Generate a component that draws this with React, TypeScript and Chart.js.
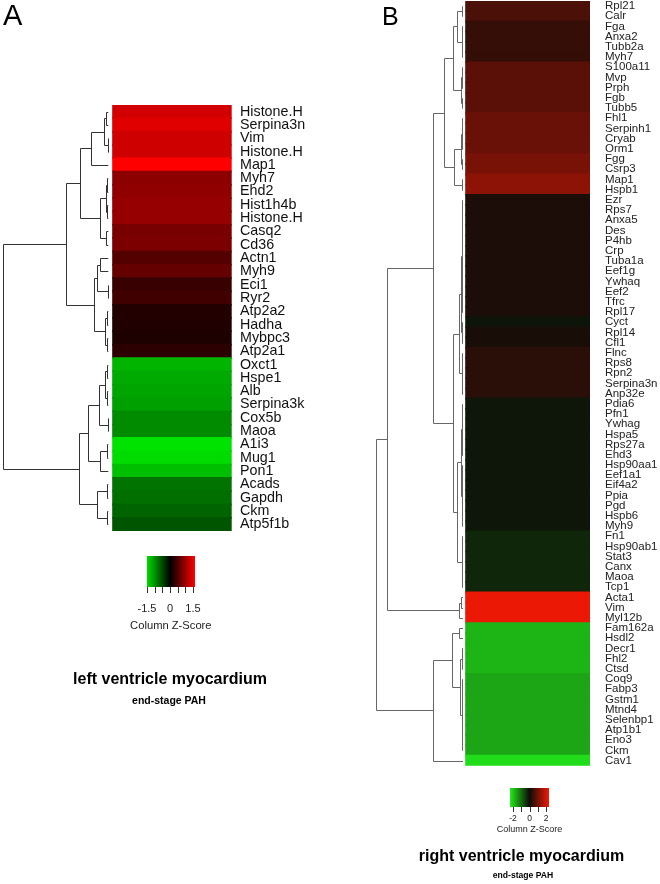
import React, { useEffect, useRef } from "react";
import { Chart, registerables } from "chart.js";

Chart.register(...registerables);

const FONT = '"Liberation Sans", Arial, Helvetica, sans-serif';

// ---------------- Panel A : left ventricle myocardium ----------------
const genesA = [
  "Histone.H", "Serpina3n", "Vim", "Histone.H", "Map1", "Myh7", "Ehd2", "Hist1h4b",
  "Histone.H", "Casq2", "Cd36", "Actn1", "Myh9", "Eci1", "Ryr2", "Atp2a2", "Hadha",
  "Mybpc3", "Atp2a1", "Oxct1", "Hspe1", "Alb", "Serpina3k", "Cox5b", "Maoa", "A1i3",
  "Mug1", "Pon1", "Acads", "Gapdh", "Ckm", "Atp5f1b",
];
const zScoresA = [
  1.32, 1.41, 1.29, 1.29, 1.6, 0.88, 0.91, 0.94, 0.94, 0.75, 0.78, 0.53, 0.63, 0.35,
  0.41, 0.22, 0.2, 0.18, 0.28, -1.25, -1.18, -1.15, -1.11, -0.97, -0.97, -1.57, -1.53,
  -1.32, -0.8, -0.77, -0.7, -0.59,
];
// dendrogram: [height, ...children], a child is a row index or a sub-tree
const treeA: any = [105.3,
  [42,
    [28,
      [17.3, [4, [2, 0, 1], [0.5, 2, 3]], 4],
      [8, [2.5, [1.5, 5, 6], [1, 7, 8]], [2.7, 9, 10]]],
    [14.7,
      [11.3, [8.7, 11, 12], [0.6, 13, 14]],
      [3, [0.8, 15, 16], [1, 17, 18]]]],
  [29.7,
    [20.7,
      [9, [3, [1, 19, 20], [1.5, 21, 22]], [0.5, 23, 24]],
      [8, [1, 25, 26], 27]],
    [11.3, [1.5, 28, 29], [1, 30, 31]]]];
const keyTicksA = [-1.5, -1, -0.5, 0, 0.5, 1, 1.5];
const keyLabelsA = [-1.5, 0, 1.5];

// ---------------- Panel B : right ventricle myocardium ----------------
const genesB = [
  "Rpl21", "Calr", "Fga", "Anxa2", "Tubb2a", "Myh7", "S100a11", "Mvp", "Prph", "Fgb",
  "Tubb5", "Fhl1", "Serpinh1", "Cryab", "Orm1", "Fgg", "Csrp3", "Map1", "Hspb1", "Ezr",
  "Rps7", "Anxa5", "Des", "P4hb", "Crp", "Tuba1a", "Eef1g", "Ywhaq", "Eef2", "Tfrc",
  "Rpl17", "Cyct", "Rpl14", "Cfl1", "Flnc", "Rps8", "Rpn2", "Serpina3n", "Anp32e",
  "Pdia6", "Pfn1", "Ywhag", "Hspa5", "Rps27a", "Ehd3", "Hsp90aa1", "Eef1a1", "Eif4a2",
  "Ppia", "Pgd", "Hspb6", "Myh9", "Fn1", "Hsp90ab1", "Stat3", "Canx", "Maoa", "Tcp1",
  "Acta1", "Vim", "Myl12b", "Fam162a", "Hsdl2", "Decr1", "Fhl2", "Ctsd", "Coq9", "Fabp3",
  "Gstm1", "Mtnd4", "Selenbp1", "Atp1b1", "Eno3", "Ckm", "Cav1",
];
const zScoresB = [
  0.64, 0.64, 0.42, 0.41, 0.41, 0.4, 0.79, 0.79, 0.79, 0.79, 0.79, 0.94, 0.94, 0.94,
  0.94, 1.09, 1.09, 1.3, 1.3, 0.16, 0.16, 0.16, 0.16, 0.16, 0.16, 0.16, 0.16, 0.16,
  0.16, 0.16, 0.16, -0.08, 0.13, 0.13, 0.3, 0.3, 0.3, 0.3, 0.3, -0.11, -0.11, -0.11,
  -0.11, -0.11, -0.11, -0.11, -0.11, -0.11, -0.11, -0.11, -0.11, -0.11, -0.28, -0.28,
  -0.28, -0.28, -0.28, -0.28, 2.26, 2.26, 2.26, -1.78, -1.78, -1.78, -1.78, -1.78,
  -1.62, -1.62, -1.62, -1.62, -1.62, -1.62, -1.62, -1.62, -2.2,
];
const treeB: any = [87,
  [76.3,
    [30.3,
      [19,
        [10.3, [6.3, [1.5, 0, 1], [0.8, 2, 3, 4, 5]], [2.3, [1, 6, 7, 8], [0.8, 9, 10]]],
        [9, [2, [1.2, 11, 12, 13, 14], [0.8, 15, 16]], [0.7, 17, 18]]],
      [9.7,
        [3.7,
          [2.2, [1, 19, 20, 21, 22, 23, 24, 25, 26, 27, 28, 29, 30], [1.2, 31, 32, 33]],
          [1.5, 34, 35, 36, 37, 38]],
        [6.3,
          [2, [1, 39, 40, 41, 42, 43, 44], [1.2, 45, 46, 47, 48, 49, 50, 51]],
          [1.5, 52, 53, 54, 55, 56, 57]]]],
    [3.7, [2, 58, 59], 60]],
  [30.3,
    [11.3, [4, 61, 62], [3, [1, 63, 64, 65], [1.5, 66, 67, 68, 69, 70, 71, 72, 73]]],
    74]];
const keyTicksB = [-2, -1, 0, 1, 2];
const keyLabelsB = [-2, 0, 2];

// ---------------- styles / layout ----------------
const rampA = { low: [0, 230, 0], mid: [0, 0, 0], high: [255, 0, 0], max: 1.6 };
const rampB = { low: [35, 235, 25], mid: [12, 12, 8], high: [245, 25, 5], max: 2.36 };

const layA = {
  left: 0, width: 330, pad: { left: 2.7, top: 105, bottom: 353, right: 0 },
  axisWidth: 98.3, xMin: -0.929, tickPad: 8.3, tickSize: 14.3, tickColor: "#111",
  gap: 4.7, lineColor: "#333", lineWidth: 1,
};
const layB = {
  left: 330, width: 330, pad: { left: 46, top: 1, bottom: 118.3, right: 0 },
  axisWidth: 70, xMin: -0.726, tickPad: 15, tickSize: 11.5, tickColor: "#222",
  gap: 3, lineColor: "#666", lineWidth: 1,
};

function rampColor(v: number, r: any) {
  const t = Math.max(-1, Math.min(1, v / r.max));
  const a = t < 0 ? r.low : r.high;
  const k = Math.abs(t);
  const c = r.mid.map((m: number, i: number) => Math.round(m + (a[i] - m) * k));
  return `rgb(${c[0]},${c[1]},${c[2]})`;
}

function makeDendroPlugin(tree: any, lay: any) {
  return {
    id: "dendro",
    afterDatasetsDraw(chart: any) {
      const { ctx, scales } = chart;
      const xs = scales.x;
      const ys = scales.y;
      const H = tree[0];
      const xLeaf = xs.getPixelForValue(0) - lay.gap;
      const xRoot = xs.getPixelForValue(xs.min);
      const px = (h: number) => xLeaf - (h / H) * (xLeaf - xRoot);
      const snap = (v: number) => Math.round(v) + 0.5;
      ctx.save();
      ctx.strokeStyle = lay.lineColor;
      ctx.lineWidth = lay.lineWidth;
      ctx.beginPath();
      const walk = (node: any): { x: number; y: number } => {
        if (typeof node === "number") return { x: xLeaf, y: ys.getPixelForValue(node) };
        const [h, ...kids] = node;
        const pts = kids.map(walk);
        const nx = snap(px(h));
        const yv = pts.map((p: any) => p.y);
        const top = Math.min(...yv);
        const bot = Math.max(...yv);
        ctx.moveTo(nx, snap(top));
        ctx.lineTo(nx, snap(bot));
        pts.forEach((p: any) => {
          ctx.moveTo(nx, snap(p.y));
          ctx.lineTo(p.x, snap(p.y));
        });
        return { x: nx, y: (top + bot) / 2 };
      };
      walk(tree);
      ctx.stroke();
      ctx.restore();
    },
  };
}

function HeatPanel({ genes, values, tree, ramp, lay }: any) {
  const ref = useRef<HTMLCanvasElement>(null);
  useEffect(() => {
    const chart = new Chart(ref.current as HTMLCanvasElement, {
      type: "bar",
      data: {
        labels: genes,
        datasets: [
          {
            data: values.map(() => 1),
            backgroundColor: values.map((v: number) => rampColor(v, ramp)),
            borderWidth: 0,
            borderSkipped: false,
            inflateAmount: 0.8,
            barPercentage: 1,
            categoryPercentage: 1,
          } as any,
        ],
      },
      options: {
        indexAxis: "y",
        responsive: false,
        animation: false,
        events: [],
        layout: { padding: lay.pad },
        scales: {
          x: { type: "linear", display: false, min: lay.xMin, max: 1 },
          y: {
            type: "category",
            position: "right",
            grid: { display: false, drawTicks: false },
            border: { display: false },
            ticks: {
              autoSkip: false,
              padding: lay.tickPad,
              color: lay.tickColor,
              font: { family: FONT, size: lay.tickSize },
            },
            afterFit: (s: any) => {
              s.width = lay.axisWidth;
              s.paddingTop = 0;
              s.paddingBottom = 0;
            },
          },
        },
        plugins: {
          legend: { display: false },
          tooltip: { enabled: false },
          title: { display: false },
        },
      } as any,
      plugins: [makeDendroPlugin(tree, lay)],
    });
    return () => chart.destroy();
  }, []);
  return (
    <canvas
      ref={ref}
      width={lay.width}
      height={884}
      style={{ position: "absolute", left: lay.left, top: 0, width: lay.width, height: 884 }}
    />
  );
}

function Txt({ x, y, size, bold, align, color, children }: any) {
  return (
    <div
      style={{
        position: "absolute",
        left: x,
        top: y - size / 2,
        transform: align === "left" ? undefined : "translateX(-50%)",
        fontSize: size,
        lineHeight: `${size}px`,
        fontWeight: bold ? 700 : 400,
        fontFamily: FONT,
        whiteSpace: "nowrap",
        color: color || "#111",
      }}
    >
      {children}
    </div>
  );
}

function ColorKey({ ramp, min, max, box, ticks, labels, tickLen, labelY, labelSize, titleY, titleSize }: any) {
  const pos = (v: number) => box.x + ((v - min) / (max - min)) * box.w;
  const zeroPct = ((0 - min) / (max - min)) * 100;
  const grad = `linear-gradient(to right, ${rampColor(min, ramp)} 0%, ${rampColor(0, ramp)} ${zeroPct}%, ${rampColor(max, ramp)} 100%)`;
  return (
    <>
      <div style={{ position: "absolute", left: box.x, top: box.y, width: box.w, height: box.h, background: grad }} />
      {ticks.map((t: number, i: number) => (
        <div key={i} style={{ position: "absolute", left: Math.round(pos(t)), top: box.y + box.h, width: 1, height: tickLen, background: "#333" }} />
      ))}
      {labels.map((t: number, i: number) => (
        <Txt key={i} x={pos(t)} y={labelY} size={labelSize} color="#222">{String(t)}</Txt>
      ))}
      <Txt x={box.x + box.w / 2} y={titleY} size={titleSize} color="#222">Column Z-Score</Txt>
    </>
  );
}

export default function App() {
  return (
    <div style={{ position: "absolute", left: 0, top: 0, width: 660, height: 884, background: "#fff", overflow: "hidden" }}>
      <HeatPanel genes={genesA} values={zScoresA} tree={treeA} ramp={rampA} lay={layA} />
      <HeatPanel genes={genesB} values={zScoresB} tree={treeB} ramp={rampB} lay={layB} />

      <Txt x={3} y={15.5} size={29} align="left" color="#000">A</Txt>
      <Txt x={382} y={16} size={25} align="left" color="#000">B</Txt>

      <ColorKey
        ramp={rampA} min={-1.52} max={1.63}
        box={{ x: 146.7, y: 556, w: 48.3, h: 31 }}
        ticks={keyTicksA} labels={keyLabelsA} tickLen={6}
        labelY={608} labelSize={11} titleY={625.5} titleSize={11.2}
      />
      <Txt x={170} y={679} size={16} bold color="#000">left ventricle myocardium</Txt>
      <Txt x={169} y={700} size={10.5} bold color="#000">end-stage PAH</Txt>

      <ColorKey
        ramp={rampB} min={-2.36} max={2.36}
        box={{ x: 510, y: 788, w: 39, h: 19 }}
        ticks={keyTicksB} labels={keyLabelsB} tickLen={5}
        labelY={818} labelSize={8.5} titleY={829} titleSize={9}
      />
      <Txt x={521.5} y={856} size={16} bold color="#000">right ventricle myocardium</Txt>
      <Txt x={523} y={875} size={8.6} bold color="#000">end-stage PAH</Txt>
    </div>
  );
}
